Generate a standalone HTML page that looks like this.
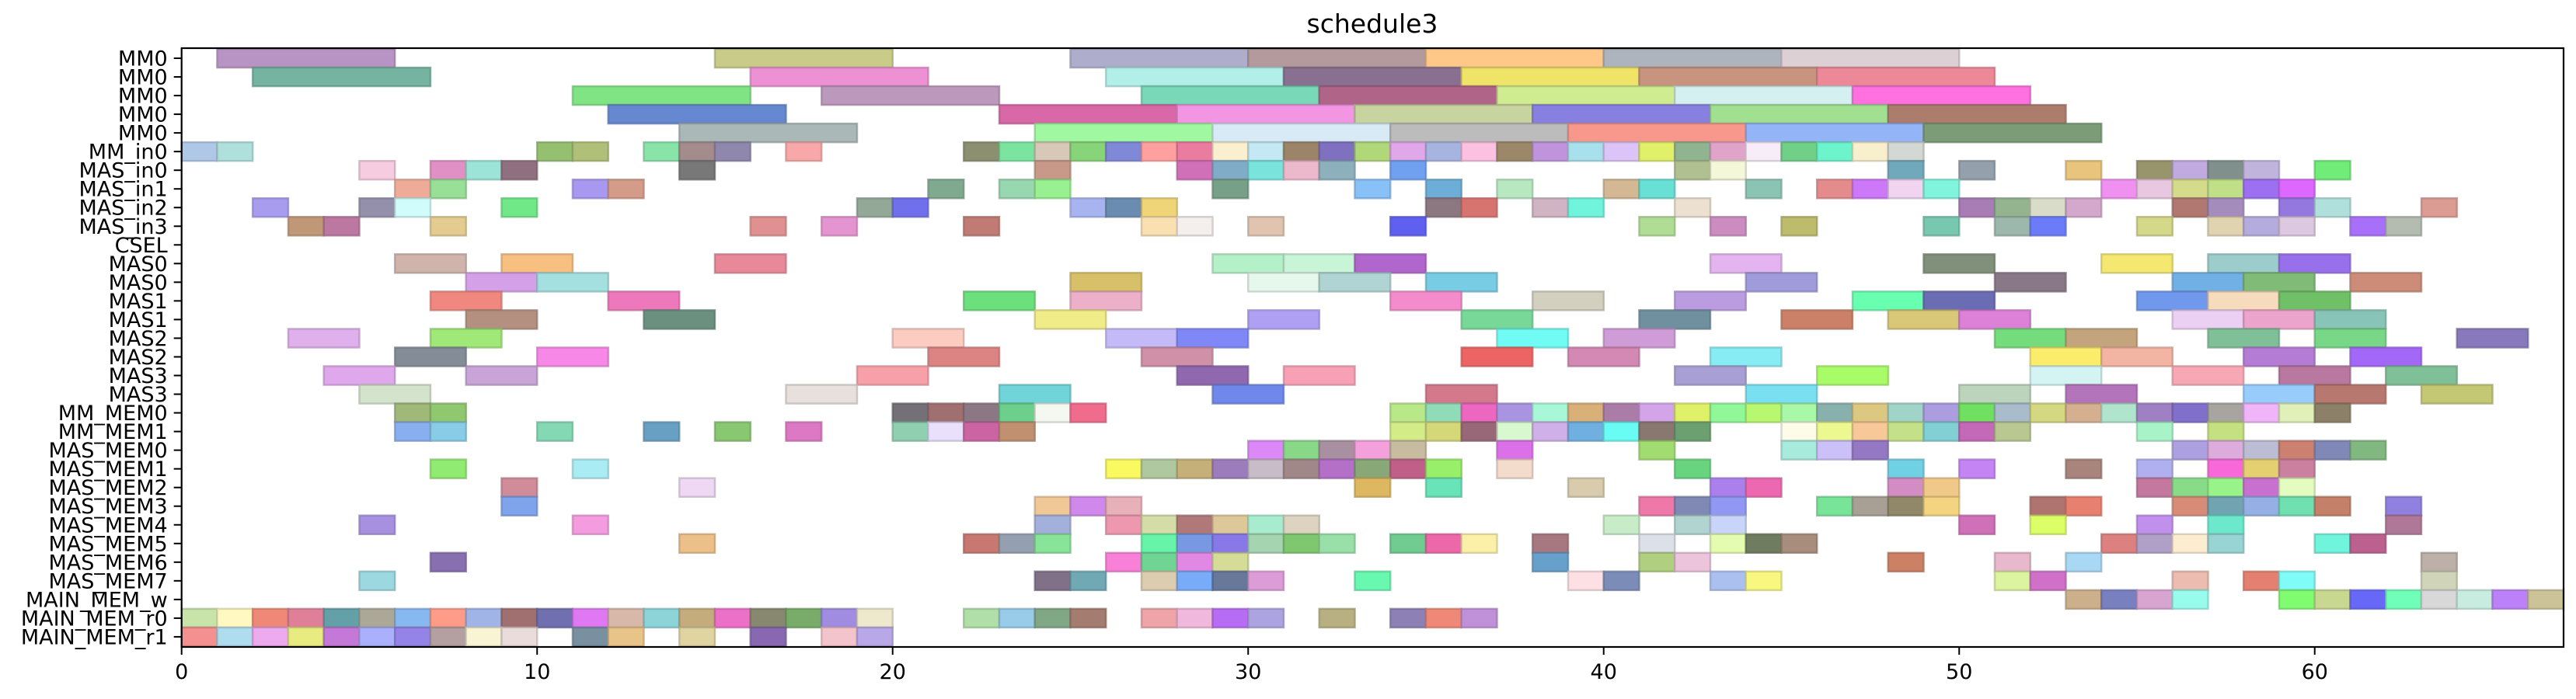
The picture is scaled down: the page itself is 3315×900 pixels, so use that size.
<!DOCTYPE html>
<html><head><meta charset="utf-8"><title>schedule3</title>
<style>html,body{margin:0;padding:0;background:#fff;}svg{display:block;}</style></head>
<body>
<svg id="chart" width="3315" height="900" viewBox="0 0 3315 900" xmlns="http://www.w3.org/2000/svg" font-family="'DejaVu Sans','Liberation Sans',sans-serif">
<rect x="0" y="0" width="3315" height="900" fill="#fff"/>
<text x="1766" y="42" font-size="33" text-anchor="middle" fill="#000">schedule3</text>
<g id="bars"></g>
<g id="axes"></g>
</svg>
<script>
const rowLabels = ["MM0","MM0","MM0","MM0","MM0","MM_in0","MAS_in0","MAS_in1","MAS_in2","MAS_in3","CSEL","MAS0","MAS0","MAS1","MAS1","MAS2","MAS2","MAS3","MAS3","MM_MEM0","MM_MEM1","MAS_MEM0","MAS_MEM1","MAS_MEM2","MAS_MEM3","MAS_MEM4","MAS_MEM5","MAS_MEM6","MAS_MEM7","MAIN_MEM_w","MAIN_MEM_r0","MAIN_MEM_r1"];
const rowDur = [5,5,5,5,5,1,1,1,1,1,2,2,2,2,2,2,2,2,2,1,1,1,1,1,1,1,1,1,1,1,1,1];
const rowStarts = [
[1,15,25,30,35,40,45],
[2,16,26,31,36,41,46],
[11,18,27,32,37,42,47],
[12,23,28,33,38,43,48],
[14,24,29,34,39,44,49],
[0,1,10,11,13,14,15,17,22,23,24,25,26,27,28,29,30,31,32,33,34,35,36,37,38,39,40,41,42,43,44,45,46,47,48],
[5,7,8,9,14,24,28,29,30,31,32,34,42,43,48,50,53,55,56,57,58,60],
[6,7,11,12,21,23,24,29,33,35,37,40,41,44,46,47,48,49,54,55,56,57,58,59],
[2,5,6,9,19,20,25,26,27,35,36,38,39,42,50,51,52,53,56,57,59,60,63],
[3,4,7,16,18,22,27,28,30,34,41,43,45,49,51,52,55,57,58,59,61,62],
[],
[6,9,15,29,31,33,43,49,54,57,59],
[8,10,25,30,32,35,44,51,56,58,61],
[7,12,22,25,34,38,42,47,49,55,57,59],
[8,13,24,30,36,41,45,48,50,56,58,60],
[3,7,20,26,28,37,40,51,53,57,60,64],
[6,10,21,27,36,39,43,52,54,58,61],
[4,8,19,28,31,42,46,52,56,59,62],
[5,17,23,29,35,44,50,53,58,60,63],
[6,7,20,21,22,23,24,25,34,35,36,37,38,39,40,41,42,43,44,45,46,47,48,49,50,51,52,53,54,55,56,57,58,59,60],
[6,7,10,13,15,17,20,21,22,23,34,35,36,37,38,39,40,41,42,45,46,47,48,49,50,51,55,57],
[30,31,32,33,34,37,41,45,46,47,56,57,58,59,60,61],
[7,11,26,27,28,29,30,31,32,33,34,35,37,42,48,50,53,55,57,58,59],
[9,14,33,35,39,43,44,48,49,55,56,57,58,59],
[9,24,25,26,41,42,43,46,47,48,49,52,53,56,57,58,59,60,62],
[5,11,24,26,27,28,29,30,31,40,42,43,50,52,55,57,62],
[14,22,23,24,27,28,29,30,31,32,34,35,36,38,41,43,44,45,54,55,56,57,60,61],
[7,26,27,28,29,38,41,42,48,51,53,63],
[5,24,25,27,28,29,30,33,39,40,43,44,51,52,56,58,59,63],
[53,54,55,56,59,60,61,62,63,64,65,66],
[0,1,2,3,4,5,6,7,8,9,10,11,12,13,14,15,16,17,18,19,22,23,24,25,27,28,29,30,32,34,35,36],
[0,1,2,3,4,5,6,7,8,9,11,12,14,16,18,19]
];
const rowColors = [
["b894c4","c8cc88","aeaecc","b49a9c","ffc888","aeb4be","dcd0d4"],
["74b4a0","ee90d4","b2efe8","8a7090","f0e468","c89480","ec8898"],
["80e484","bc98bc","78d8b8","b06488","d0ec90","d4f0f0","ff70e0"],
["6688d0","d868a8","f296e4","c8d4a0","8880e0","a0e090","ac7c6c"],
["aab8b8","a0f8a0","d8eaf6","bcbcbc","f8988c","94b4f8","7c9c78"],
["b0c8e8","b0e0dc","94c070","b0c078","88e4a8","a48c8c","9088ac","f8a8a8","8c9070","7ae4a0","d8c8b8","88d478","8088d8","ffa0a0","ea7ca0","faf0d0","c4e8f4","9c8468","8070c0","b0d878","e0a8e8","a8b4e0","fcc0e0","9c8868","c094dc","a8e0ec","dcc4f8","e0f068","90b490","e0a4c8","f8ecf8","70d088","6cf4cc","f8f0cc","d4d8d4"],
["f6cce0","e090c4","9ce4d8","907080","787878","c89888","d070b8","80acc8","78e4dc","ecb8cc","8cb0bc","70a0f0","b0c090","f4f8d8","70a8bc","94a0ac","e8c47c","98946c","c0aae0","80908c","c0b4dc","70ec78"],
["eeac98","98e098","a898f0","d49c88","80aa90","98d8b0","98f090","78a088","88c0f8","6caed8","b8e8c0","d4b894","68e0d4","8cc4b4","e48c8c","cc78f8","f0d4f0","80f4dc","f090f0","e8c8e0","d4dc8c","c0e088","9c70f0","dc68ff"],
["a89cf0","9490ac","d0fcfc","70e888","94a898","7070ec","a8b4f0","6a8cb0","f0d478","8c7880","d87470","d0b4c4","70f4dc","ece0d0","a87cb4","94b490","d8dcc8","d4a8cc","b07870","a48cbc","9478e0","b0e0dc","dc9c94"],
["c09878","bc78a0","e4cc90","e09090","e494d0","c07c74","fae0b0","f4eeec","e0c4b0","6060f0","b0dc94","cc8cc0","bcbc6c","78c8b0","9cb8ac","6c7cf8","d4d888","e0d4b0","b4acdc","dcc8e0","a870f8","b4bcb0"],
[],
["d0b4ac","f8c080","e88898","b4f0c8","c8f4d8","b066cc","e4b4f0","80907a","f4e870","9ccccc","9870ec"],
["d4a0e8","a4e0e0","d8c068","e6f8ec","b0d4d4","78cce4","a09cdc","887888","70b0e4","80bc78","cc8c78"],
["f08880","ee78bc","6ce07c","ecb0c8","f48ccc","d4d0c0","bc9ce0","68ffb0","6a6cb4","7098ec","f6dcbc","70c068"],
["b49080","6c9080","f0ec88","b0a0f4","78d898","7090a0","cc8068","d8c878","dc80d8","ecd0f4","eca4cc","88c4b8"],
["e0b0ec","a0e878","fcccc0","c4baf8","8088f8","70fcf4","d09cd8","74dc7c","c4a47c","80c098","78d888","8878bc"],
["848c98","f888e8","dc8484","d090a8","ec6464","d488b4","88ecf4","fcec6c","f4b4a4","b47cd4","a468f8"],
["e0a8ec","c8a4d8","f8a0a8","9068b0","f8a0b4","a8a0d4","a8fc68","d4f4f4","f8a8b4","b878a0","80c098"],
["d4e4cc","e8e0dc","70d4d8","7088ec","d4788c","78e0f0","bcd4bc","b474bc","98ccfc","b87870","c4c874"],
["a0b878","90c870","747078","a07070","8c7884","6cd08c","f4f8f0","f06c8c","b8e888","90dcb8","ec68c0","a894e0","a8f8d8","d8b078","ac7ca8","d4a4e8","e0f068","90f898","b8f870","a8f8a8","88b0ac","dcc880","a0d4c8","ac9ce0","70e060","a8bccc","d4d880","d4b090","b0e4cc","a080c4","8070cc","a8a4a0","f0b4f8","e0f0b8","8c8068"],
["88b0f0","88cce8","84d8b4","68a0c4","88c870","dc78c4","90d0b0","eae0fc","cc64a4","c09070","d4ec88","d4d878","986878","d8f8d0","d0b0e8","70b0e0","68fcf4","887870","6ca070","fcfce8","ecf890","f8c898","c4e088","80d0d4","c468b8","b8c890","a8f4c8","c4e080"],
["dc88f8","88d888","a890a0","f4a0dc","c8bca0","dc70e8","a0dc70","a8eadc","ccc0f8","9478c4","aca0e0","dcacdc","bcbcd4","cc8070","8088b8","80b880"],
["90ec70","aaecf4","fafa60","b0c8a0","c4b078","9c7cbc","c8bcc8","a08888","b470c8","88a878","c06088","98f068","f4dccc","68d480","70d0e4","c484f4","a8847c","b0b0f0","f868d8","e4d070","cc80a0"],
["d08c98","eed8f4","deb860","68e4b8","d8ccac","ac80ec","ec68b0","d48cc4","f0c888","c478a0","88dc88","98f488","c870d0","e4fcc0"],
["80a4ec","f0c898","d088ec","e8b0b8","ee78a8","8088b4","9098f4","78e498","a8a094","908868","f4d480","b07470","e88070","d88c78","70a4b0","94b0e4","70e0b0","c48068","9080e0"],
["a890e0","f49ce0","a4b0dc","ee98b0","d4dca8","b07878","dcc898","a8ecd0","dcd4c0","c8ecc8","b0d4d0","c8d4f8","d070b8","dcff68","c090ec","6ce8cc","b07898"],
["ecc088","c87870","94a0b0","88e498","68f4a8","7898e4","8878e8","a4d4b0","80c870","98e0a8","70cc90","ec68a8","fcf0a8","a87880","dce0e8","e4fcb0","707c60","a88c7c","dc8080","b0a0c8","fcecd0","98d4d4","70f4dc","bc6090"],
["8870b0","f880d8","70d494","e088e4","d4dc98","68a0cc","b0d080","ecc4dc","cc8064","e8b8cc","a8d8f4","bcb0a8"],
["9cd8e0","807088","70a8b4","dccdb0","78acf8","68789a","dc9cd8","68f8b0","fce0e4","7c8cb8","acc0f0","f8f880","dcf4a0","d070c8","ecbcb0","e48070","80fcf8","d0d4b8"],
["ccb08c","7880c0","d8a4d0","98fcec","80fc70","c8d890","6868f8","70ffb8","d8d8d8","c8ece0","bc80f8","ccc498"],
["c8e4a8","fff8c0","f08878","e08098","64a0a8","aca898","88b8f0","ff9c88","a0b4e8","a07070","7070b0","e078f4","d8b8a8","8cd4d8","c4ac7c","ec70c8","888870","78ac68","a08ce0","eee8cc","b0e0a8","98cce8","80a884","a47c70","eea4a8","f0b8dc","b86cf4","aca4e0","b8b080","8c80b4","f08878","c090d8"],
["f49090","b0dcf0","eeaaee","e8ec80","c478d8","aab0fc","9484e8","b4a0a0","f8f4d4","eadcda","7890a0","e8c488","e0d4a0","8868b0","f4c4cc","b8a8e8"]
];
// special-case durations (row 17 lime bar is 2 units like the rest of that row)
const xTicks = [0,10,20,30,40,50,60];
const xMin = 0, xMax = 67;

const NS = "http://www.w3.org/2000/svg";
const plotL = 233.7, plotR = 3299, plotT = 62, plotB = 833;
const rowH = 24.03, row0 = 75;
function xs(v){ return plotL + (v - xMin) * (plotR - plotL) / (xMax - xMin); }
function ys(i){ return row0 + i * rowH; }
function darker(hex){
  const n = parseInt(hex,16);
  const r = Math.round(((n>>16)&255)*0.8), g = Math.round(((n>>8)&255)*0.8), b = Math.round((n&255)*0.8);
  return "rgb("+r+","+g+","+b+")";
}
const barsG = document.getElementById("bars");
rowStarts.forEach(function(starts, i){
  starts.forEach(function(s, j){
    const d = rowDur[i];
    const r = document.createElementNS(NS, "rect");
    r.setAttribute("x", xs(s));
    r.setAttribute("y", ys(i) - rowH/2);
    r.setAttribute("width", xs(s + d) - xs(s));
    r.setAttribute("height", rowH);
    const c = rowColors[i][j] || "cccccc";
    r.setAttribute("fill", "#" + c);
    r.setAttribute("stroke", darker(c));
    r.setAttribute("stroke-opacity", "0.7");
    r.setAttribute("stroke-width", "2.5");
    
    
    barsG.appendChild(r);
  });
});
const axesG = document.getElementById("axes");
const frame = document.createElementNS(NS, "rect");
frame.setAttribute("x", plotL); frame.setAttribute("y", plotT);
frame.setAttribute("width", plotR - plotL); frame.setAttribute("height", plotB - plotT);
frame.setAttribute("fill", "none"); frame.setAttribute("stroke", "#000"); frame.setAttribute("stroke-width", "2.2");


axesG.appendChild(frame);
rowLabels.forEach(function(lab, i){
  const y = ys(i);
  const t = document.createElementNS(NS, "line");
  t.setAttribute("x1", plotL - 10); t.setAttribute("x2", plotL);
  t.setAttribute("y1", y); t.setAttribute("y2", y);
  t.setAttribute("stroke", "#000"); t.setAttribute("stroke-width", "2");
  
  
  axesG.appendChild(t);
  const tx = document.createElementNS(NS, "text");
  tx.setAttribute("x", plotL - 18); tx.setAttribute("y", y + 9.5);
  tx.setAttribute("text-anchor", "end"); tx.setAttribute("font-size", "27");
  tx.textContent = lab;
  
  
  axesG.appendChild(tx);
});
xTicks.forEach(function(v){
  const x = xs(v);
  const t = document.createElementNS(NS, "line");
  t.setAttribute("x1", x); t.setAttribute("x2", x);
  t.setAttribute("y1", plotB); t.setAttribute("y2", plotB + 10);
  t.setAttribute("stroke", "#000"); t.setAttribute("stroke-width", "2");
  
  
  axesG.appendChild(t);
  const tx = document.createElementNS(NS, "text");
  tx.setAttribute("x", x); tx.setAttribute("y", plotB + 41);
  tx.setAttribute("text-anchor", "middle"); tx.setAttribute("font-size", "27");
  tx.textContent = String(v);
  
  
  axesG.appendChild(tx);
});
</script>
</body></html>
